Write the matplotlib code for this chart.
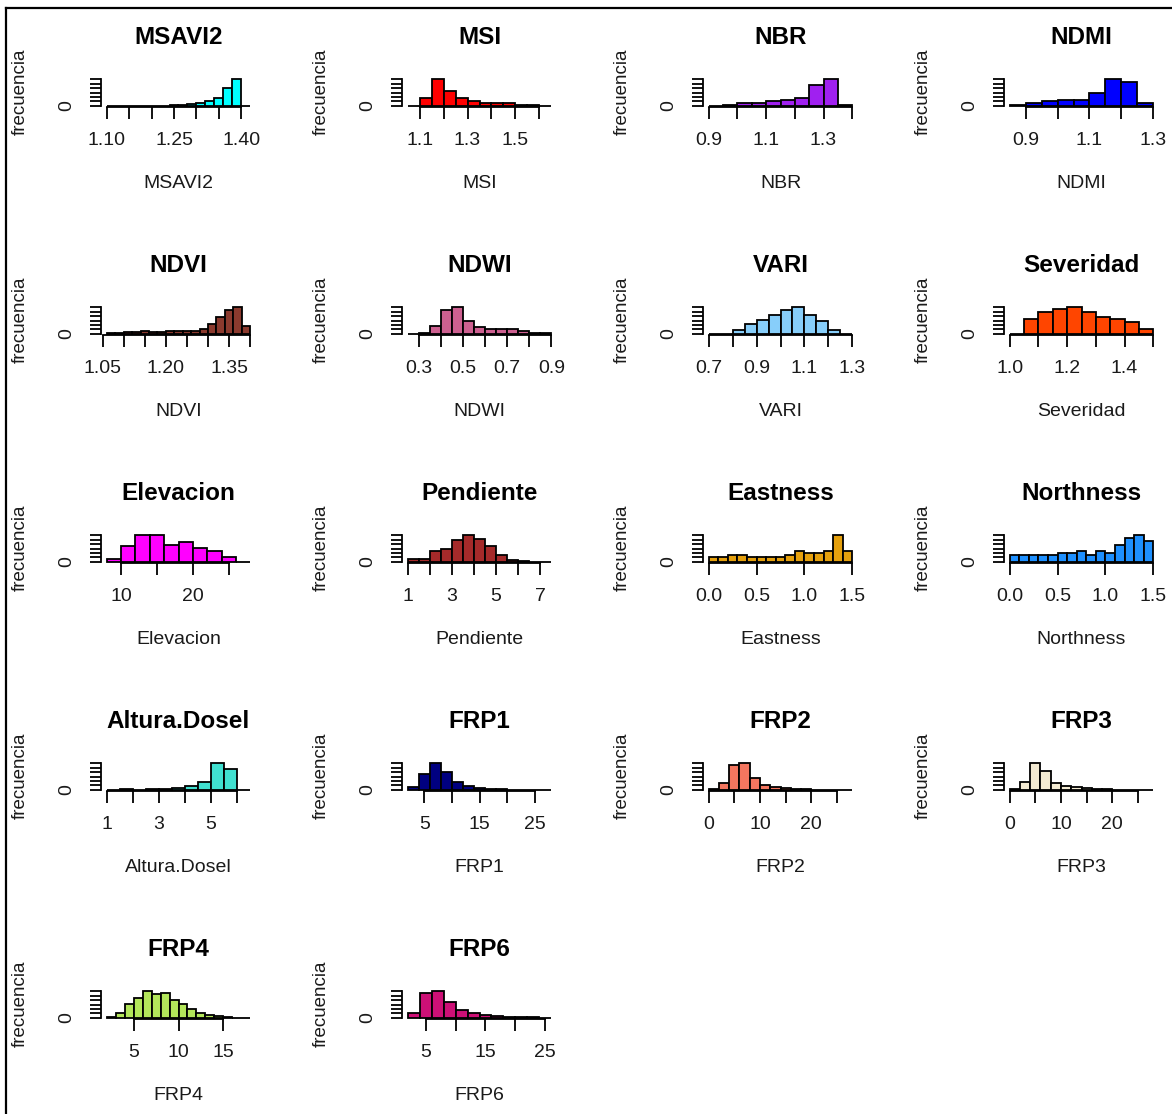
import numpy as np
import matplotlib
matplotlib.use("Agg")
import matplotlib.pyplot as plt
from matplotlib.transforms import offset_copy
from matplotlib.lines import Line2D

plt.rcParams['font.family'] = ['Liberation Sans', 'DejaVu Sans']

# variables del panel, en orden de lectura
variables = ["MSAVI2", "MSI", "NBR", "NDMI",
             "NDVI", "NDWI", "VARI", "Severidad",
             "Elevacion", "Pendiente", "Eastness", "Northness",
             "Altura.Dosel", "FRP1", "FRP2", "FRP3",
             "FRP4", "FRP6"]

# inicio y ancho de las clases de cada histograma
inicio = [1.10, 1.05, 0.90, 0.85,
          1.06, 0.25, 0.70, 1.00,
          8, 1, 0.0, 0.0,
          1.0, 2, 0, 0,
          2, 2]
ancho = [0.02, 0.05, 0.05, 0.05,
         0.02, 0.05, 0.05, 0.05,
         2, 0.5, 0.1, 0.1,
         0.5, 2, 2, 2,
         1, 2]

# frecuencias por clase (escala relativa)
f_msavi2 = [0, 0, 0.3, 0.3, 0.3, 0.3, 0.4, 0.5, 1.0, 2.5, 3.0, 5.5, 8.5, 20, 30, 0.3]
f_msi = [0.2, 8.6, 30, 16.9, 8.6, 5.6, 3, 3, 3, 0.8, 0.5, 0.4]
f_nbr = [0, 1, 3, 3, 5.6, 6.8, 8.6, 23.6, 30, 0.6]
f_ndmi = [0.8, 3, 5.6, 6.8, 6.8, 15, 30, 26.6, 3]
f_ndvi = [0.7, 0.7, 2.2, 2.2, 3.7, 2.2, 2.2, 3.7, 3.7, 3.7, 3.7, 5.6, 11.6, 19, 26.6, 30, 9.4]
f_ndwi = [0, 0.5, 9, 26.4, 30, 14.8, 7.6, 5.4, 5.4, 5.4, 2.9, 1.1, 0.7]
f_vari = [0, 0.3, 4.1, 11.5, 15.2, 20.7, 26.3, 30, 21.5, 14.1, 4.1, 0.4]
f_severidad = [0.2, 16.7, 24.8, 28.1, 30, 24.4, 18.9, 16.7, 13.3, 5.6]
f_elevacion = [3.2, 18, 30, 29.6, 19.2, 22, 15.2, 12, 5.2, 0.4]
f_pendiente = [3.2, 3.2, 12, 14, 24, 30, 26, 18, 8, 2, 0.8, 0.4, 0.3]
f_eastness = [5, 5, 8.1, 8.1, 5, 5, 5, 5, 8.1, 11.9, 10, 10, 11.9, 30, 11.9]
f_northness = [8.1, 8.1, 8.1, 8.1, 8.1, 10, 10, 12.7, 8.1, 12.7, 10, 18.5, 26.2, 30, 23.1]
f_altura = [0.2, 1.2, 0.3, 0.5, 1.2, 2.3, 4.6, 9.2, 30, 23, 0]
f_frp1 = [3.5, 17.3, 30, 19.6, 9.2, 4.6, 2.3, 1.2, 0.6, 0.3, 0.2, 0.1, 0.1]
f_frp2 = [0.5, 8, 27.7, 30, 13.8, 5.8, 3.5, 1.7, 1.2, 0.6, 0.3, 0.2, 0.1, 0.1]
f_frp3 = [1, 9.2, 30, 20.8, 8, 4.6, 3.5, 1.7, 0.9, 0.6, 0.3, 0.2, 0.1, 0.1]
f_frp4 = [0.6, 6, 15.6, 22.8, 30, 26.4, 27.6, 20.4, 15.6, 9.6, 6, 3.6, 1.8, 0.6, 0.4, 0.2]
f_frp6 = [5, 27.5, 30, 17.5, 8.8, 5, 3.8, 1.9, 1.2, 0.6, 0.6, 0.4]

frecuencias = [f_msavi2, f_msi, f_nbr, f_ndmi,
               f_ndvi, f_ndwi, f_vari, f_severidad,
               f_elevacion, f_pendiente, f_eastness, f_northness,
               f_altura, f_frp1, f_frp2, f_frp3,
               f_frp4, f_frp6]

# marcas del eje x y las que llevan etiqueta
marcas_x = [[1.10, 1.15, 1.20, 1.25, 1.30, 1.35, 1.40],
            [1.1, 1.2, 1.3, 1.4, 1.5, 1.6],
            [0.9, 1.0, 1.1, 1.2, 1.3, 1.4],
            [0.9, 1.0, 1.1, 1.2, 1.3],
            [1.05, 1.10, 1.15, 1.20, 1.25, 1.30, 1.35, 1.40],
            [0.3, 0.4, 0.5, 0.6, 0.7, 0.8, 0.9],
            [0.7, 0.8, 0.9, 1.0, 1.1, 1.2, 1.3],
            [1.0, 1.1, 1.2, 1.3, 1.4, 1.5],
            [10, 15, 20, 25],
            [1, 2, 3, 4, 5, 6, 7],
            [0.0, 0.5, 1.0, 1.5],
            [0.0, 0.5, 1.0, 1.5],
            [1, 2, 3, 4, 5, 6],
            [5, 10, 15, 20, 25],
            [0, 5, 10, 15, 20, 25],
            [0, 5, 10, 15, 20, 25],
            [5, 10, 15],
            [5, 10, 15, 20, 25]]
etiquetas_x = [["1.10", "1.25", "1.40"],
               ["1.1", "1.3", "1.5"],
               ["0.9", "1.1", "1.3"],
               ["0.9", "1.1", "1.3"],
               ["1.05", "1.20", "1.35"],
               ["0.3", "0.5", "0.7", "0.9"],
               ["0.7", "0.9", "1.1", "1.3"],
               ["1.0", "1.2", "1.4"],
               ["10", "20"],
               ["1", "3", "5", "7"],
               ["0.0", "0.5", "1.0", "1.5"],
               ["0.0", "0.5", "1.0", "1.5"],
               ["1", "3", "5"],
               ["5", "15", "25"],
               ["0", "10", "20"],
               ["0", "10", "20"],
               ["5", "10", "15"],
               ["5", "15", "25"]]

colores = ["#00FFFF", "#FF0000", "#A020F0", "#0000FF",
           "#8B3A2E", "#CD6090", "#87CEFA", "#FF4500",
           "#FF00FF", "#A52A2A", "#E5A00D", "#1E90FF",
           "#40E0D0", "#000080", "#F4765F", "#F3EAD2",
           "#B3E65A", "#CD1076"]

W, H = 1172, 1114
fig = plt.figure(figsize=(W / 100, H / 100), dpi=100)

def fy(px):
    return 1 - px / H

for i, nombre in enumerate(variables):
    fila, col = divmod(i, 4)
    izq = 101 + 301 * col
    abajo = 107 + 228 * fila
    ax = fig.add_axes([izq / W, fy(abajo), 155 / W, 29 / H])

    frec = frecuencias[i]
    bordes = inicio[i] + ancho[i] * np.arange(len(frec) + 1)
    ax.bar(bordes[:-1], frec, width=ancho[i], align='edge',
           color=colores[i], edgecolor='black', linewidth=1.3)

    rango = bordes[-1] - bordes[0]
    ax.set_xlim(bordes[0] - 0.04 * rango, bordes[-1] + 0.04 * rango)
    ymax = max(frec)
    ax.set_ylim(-0.04 * ymax, 1.04 * ymax)

    marcas_y = np.arange(0, ymax + 1e-9, 5)
    ax.set_xticks(marcas_x[i])
    ax.set_yticks(marcas_y)
    ax.tick_params(axis='both', direction='out', width=1.3,
                   labelbottom=False, labelleft=False)
    ax.tick_params(axis='x', length=8.6)
    ax.tick_params(axis='y', length=8.0)
    for lado in ['top', 'right']:
        ax.spines[lado].set_visible(False)
    ax.spines['bottom'].set_bounds(marcas_x[i][0], marcas_x[i][-1])
    ax.spines['left'].set_bounds(0, marcas_y[-1])
    ax.spines['bottom'].set_linewidth(1.3)
    ax.spines['left'].set_linewidth(1.3)
    ax.patch.set_visible(False)

    # etiquetas del eje x, bajo la linea base
    tr = offset_copy(ax.transData, fig=fig, x=0, y=-35, units='dots')
    for et in etiquetas_x[i]:
        ax.text(float(et), 0, et, transform=tr, ha='center', va='center',
                fontsize=14, color='#1a1a1a', clip_on=False)

    base = abajo - 1
    cx = izq + 77.5
    fig.text(cx / W, fy(base - 69), nombre, ha='center', va='center',
             fontsize=17.5, fontweight='bold')
    fig.text(cx / W, fy(base + 78), nombre, ha='center', va='center',
             fontsize=14, color='#1a1a1a')
    fig.text((izq - 34) / W, fy(base), "0", ha='center', va='center',
             rotation=90, fontsize=14, color='#1a1a1a')
    fig.text((20 + 301 * col) / W, fy(abajo - 15), "frecuencia",
             ha='center', va='center', rotation=90, fontsize=13.5,
             color='#1a1a1a')

# marco exterior
fig.add_artist(Line2D([6 / W, 6 / W], [0, fy(8)], color='black', lw=1.6,
                      transform=fig.transFigure))
fig.add_artist(Line2D([6 / W, 1], [fy(8), fy(8)], color='black', lw=1.6,
                      transform=fig.transFigure))

fig.savefig("out.png", dpi=100)
